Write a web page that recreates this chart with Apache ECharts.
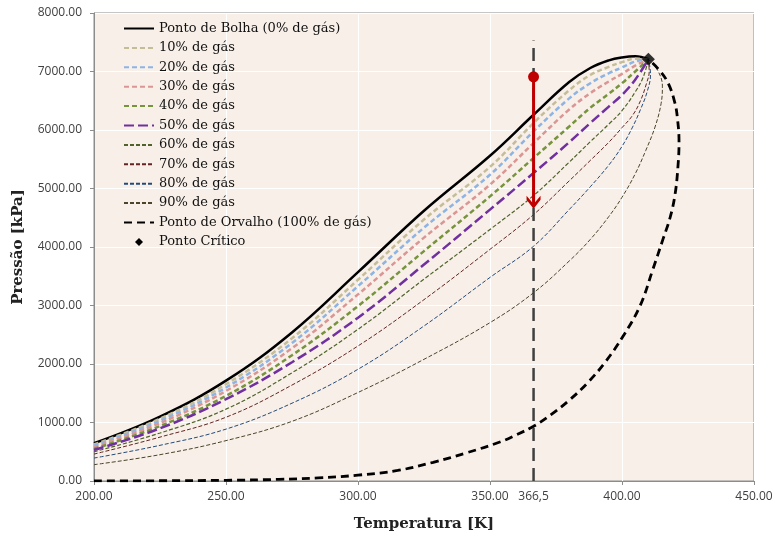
<!DOCTYPE html>
<html>
<head>
<meta charset="utf-8">
<script src="https://cdn.jsdelivr.net/npm/echarts@6/dist/echarts.min.js"></script>
<style>
  html, body { margin: 0; padding: 0; background: #fff; }
  #chart { width: 776px; height: 537px; }
</style>
</head>
<body>
<div id="chart"></div>
<script>
// pontos [T (K), P (kPa)]
const bolha = [[200,645],[225,1100],[250,1715],[275,2540],[300,3570],[325,4620],[350,5560],[366.5,6260],[380,6820],[388,7060],[395,7190],[400,7240],[405,7260],[410,7210]];
const gas10 = [[200,625],[225,1065],[250,1655],[275,2440],[300,3440],[325,4470],[350,5370],[366.5,6120],[380,6680],[388,6940],[395,7080],[400,7160],[405,7220],[410,7210]];
const gas20 = [[200,605],[225,1030],[250,1598],[275,2360],[300,3330],[325,4330],[350,5236],[366.5,5975],[380,6540],[388,6800],[395,6970],[400,7070],[405,7170],[410,7210]];
const gas30 = [[200,580],[225,990],[250,1540],[275,2270],[300,3190],[325,4160],[350,5066],[366.5,5777],[380,6350],[388,6630],[395,6830],[400,6960],[405,7100],[410,7210]];
const gas40 = [[200,550],[225,940],[250,1455],[275,2150],[300,2990],[325,3930],[350,4866],[366.5,5521],[380,6060],[388,6380],[395,6620],[400,6800],[405,7000],[410,7210]];
const gas50 = [[200,530],[225,900],[250,1399],[275,2030],[300,2792],[325,3700],[350,4639],[366.5,5265],[380,5790],[388,6120],[395,6400],[400,6600],[405,6860],[410,7210]];
const gas60 = [[200,500],[225,820],[250,1228],[275,1850],[300,2593],[325,3450],[350,4300],[366.5,4880],[380,5450],[388,5800],[395,6100],[400,6330],[405,6650],[408,6900],[410,7210]];
const gas70 = [[200,460],[225,750],[250,1090],[275,1640],[300,2308],[325,3100],[350,3960],[366.5,4554],[380,5130],[388,5480],[395,5790],[400,6040],[404,6250],[407,6500],[409.3,6800],[410.3,7000],[410,7210]];
const gas80 = [[200,392],[225,610],[250,887],[275,1330],[300,1910],[325,2650],[350,3480],[366.5,4013],[380,4640],[388,5030],[395,5400],[400,5720],[404,6050],[407,6350],[409.5,6650],[410.8,6950],[410,7210]];
const gas90 = [[200,279],[225,450],[250,690],[275,1020],[300,1513],[325,2080],[350,2707],[366.5,3218],[380,3760],[388,4130],[395,4520],[400,4850],[405,5250],[409,5650],[412.5,6050],[414.8,6450],[415.3,6750],[413.5,7020],[410,7210]];
const orvalho = [[200,1],[225,4],[250,12],[270,28],[285,52],[300,100],[315,180],[328.5,320],[341,480],[354,670],[360,790],[366.5,935],[373,1130],[380,1380],[387,1680],[393.6,2030],[400.4,2474],[406.8,2990],[411.7,3618],[415.5,4130],[418.2,4500],[420.1,4900],[421.2,5380],[421.6,5800],[421,6200],[420,6470],[417.4,6809],[414,7030],[410,7210]];
const pontoCritico = [[410,7210]];

const tempMarcada = 366.5;
const linhaVertical = [[tempMarcada,0],[tempMarcada,7530]];
const seta = [6910, 4680]; // pressão inicial e final da seta

const xTicks = [200, 250, 300, 350, 366.5, 400, 450];

const nomes = ['Ponto de Bolha (0% de gás)','10% de gás','20% de gás','30% de gás','40% de gás','50% de gás',
  '60% de gás','70% de gás','80% de gás','90% de gás','Ponto de Orvalho (100% de gás)','Ponto Crítico'];

function curva(name, data, color, width, type) {
  return {
    name: name, type: 'line', data: data, smooth: 0.4, symbol: 'none',
    lineStyle: { color: color, width: width, type: type },
    itemStyle: { color: color }
  };
}

// losango pequeno centrado numa caixa 30x10 (icone da legenda)
const iconeLosango = 'path://M0,0L0.01,0L0,0.01Z M30,10L29.99,10L30,9.99Z M15,1L19,5L15,9L11,5Z';

const legendData = nomes.map(function (n, i) {
  if (i === nomes.length - 1) return { name: n, icon: iconeLosango, itemStyle: { opacity: 1 } };
  return { name: n };
});

const dom = document.getElementById('chart');
const chart = echarts.init(dom, null, { renderer: 'canvas' });

const option = {
  backgroundColor: '#fff',
  animation: false,
  grid: {
    left: 94, right: 22, top: 13, bottom: 55,
    show: true, backgroundColor: '#F7EFE8', borderColor: '#8c8c8c', borderWidth: 1
  },
  legend: {
    orient: 'vertical',
    left: 118, top: 17,
    itemWidth: 30, itemHeight: 10, itemGap: 6.4,
    itemStyle: { opacity: 0 },
    textStyle: { fontFamily: 'DejaVu Serif', fontSize: 13, color: '#111' },
    data: legendData
  },
  xAxis: {
    type: 'value', min: 200, max: 450, interval: 50,
    name: 'Temperatura [K]', nameLocation: 'middle', nameGap: 36,
    nameTextStyle: { fontFamily: 'DejaVu Serif', fontWeight: 'bold', fontSize: 15, color: '#222' },
    axisLine: { lineStyle: { color: '#8c8c8c' } },
    axisTick: { show: true, length: 4, lineStyle: { color: '#8c8c8c' } },
    axisLabel: {
      customValues: xTicks, margin: 10,
      fontFamily: 'Open Sans', fontSize: 12, color: '#404040',
      formatter: function (v) { return v === tempMarcada ? '366,5' : v.toFixed(2); }
    },
    splitLine: { show: true, lineStyle: { color: '#ffffff', width: 1 } }
  },
  yAxis: {
    type: 'value', min: 0, max: 8000, interval: 1000,
    name: 'Pressão [kPa]', nameLocation: 'middle', nameGap: 68,
    nameTextStyle: { fontFamily: 'DejaVu Serif', fontWeight: 'bold', fontSize: 15, color: '#222' },
    axisLine: { show: true, lineStyle: { color: '#8c8c8c' } },
    axisTick: { show: true, length: 4, lineStyle: { color: '#8c8c8c' } },
    axisLabel: {
      margin: 12, fontFamily: 'Open Sans', fontSize: 12, color: '#404040',
      formatter: function (v) { return v.toFixed(2); }
    },
    splitLine: { show: true, lineStyle: { color: '#ffffff', width: 1 } }
  },
  series: [
    curva(nomes[0], bolha, '#000000', 2.5, 'solid'),
    curva(nomes[1], gas10, '#C4BD97', 2.5, [5, 3]),
    curva(nomes[2], gas20, '#8DB4E2', 2.5, [5, 3]),
    curva(nomes[3], gas30, '#DA9694', 2.5, [5, 3]),
    curva(nomes[4], gas40, '#77933C', 2.5, [5, 3]),
    curva(nomes[5], gas50, '#7030A0', 2.5, [10, 4]),
    curva(nomes[6], gas60, '#4F6228', 1.2, [4, 2]),
    curva(nomes[7], gas70, '#632523', 1, [4, 2]),
    curva(nomes[8], gas80, '#244A7A', 1, [4, 2]),
    curva(nomes[9], gas90, '#4A452A', 1, [4, 2]),
    curva(nomes[10], orvalho, '#000000', 2.8, [8, 5]),
    {
      name: 'linha', type: 'line', data: linhaVertical, symbol: 'none', z: 3,
      lineStyle: { color: '#404040', width: 2.5, type: [13, 7] }
    },
    {
      name: 'seta', type: 'line', z: 4,
      data: [
        { value: [tempMarcada, seta[0]], symbol: 'circle', symbolSize: 11 },
        { value: [tempMarcada, seta[1]], symbol: 'path://M0,0 L6,7 L12,0 L12,3.5 L6,11 L0,3.5 Z', symbolSize: [14, 13], symbolOffset: [0, -5] }
      ],
      lineStyle: { color: '#C00000', width: 3 },
      itemStyle: { color: '#C00000' }
    },
    {
      name: nomes[11], type: 'scatter', data: pontoCritico, z: 5,
      symbol: 'diamond', symbolSize: 13, itemStyle: { color: '#000' }
    }
  ]
};

chart.setOption(option);
</script>
</body>
</html>
